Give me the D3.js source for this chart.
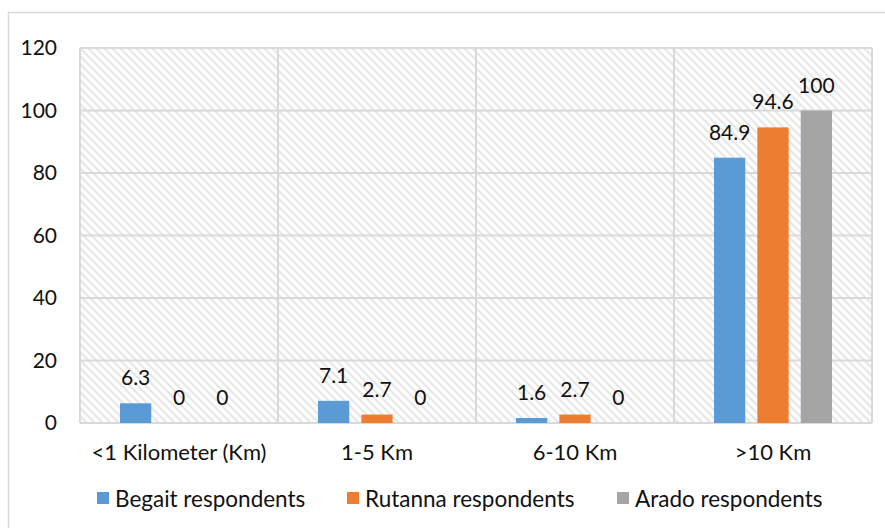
<!DOCTYPE html>
<html>
<head>
<meta charset="utf-8">
<script src="https://cdn.jsdelivr.net/npm/d3@7"></script>
<style>
  html, body { margin: 0; padding: 0; background: #fff; }
  svg { display: block; }
  text { font-family: "Lato", "Open Sans", sans-serif; fill: #111; }
</style>
</head>
<body>
<svg id="chart" width="885" height="528"></svg>
<script>
// Distance to source, share of respondents (%)
const categories = ["<1 Kilometer (Km)", "1-5 Km", "6-10 Km", ">10 Km"];
const seriesNames = ["Begait respondents", "Rutanna respondents", "Arado respondents"];
const begait  = [6.3, 7.1, 1.6, 84.9];
const rutanna = [0, 2.7, 2.7, 94.6];
const arado   = [0, 0, 0, 100];
const yTicks  = [0, 20, 40, 60, 80, 100, 120];
const colors  = ["#5b9bd5", "#ed7d31", "#a5a5a5"];

const seriesValues = [begait, rutanna, arado];

const svg = d3.select("#chart");
const plot = { left: 80, right: 872, top: 48, bottom: 423 };

// Outer frame
svg.append("rect")
  .attr("x", 8.5).attr("y", 12.5)
  .attr("width", 1000).attr("height", 1000)
  .attr("fill", "#fff").attr("stroke", "#d9d9d9").attr("stroke-width", 1.5);

// Diagonal hatch fill for the plot area
const defs = svg.append("defs");
const pat = defs.append("pattern")
  .attr("id", "hatch")
  .attr("patternUnits", "userSpaceOnUse")
  .attr("width", 8).attr("height", 8);
pat.append("rect").attr("width", 8).attr("height", 8).attr("fill", "#fff");
pat.append("path")
  .attr("d", "M-2,-2 L10,10 M-2,6 L2,10 M6,-2 L10,2")
  .attr("stroke", "#e6e6e6").attr("stroke-width", 2);

const x0 = d3.scaleBand()
  .domain(categories)
  .range([plot.left, plot.right])
  .paddingInner(0).paddingOuter(0);

const x1 = d3.scaleBand()
  .domain(seriesNames)
  .range([40, x0.bandwidth() - 40])
  .paddingInner(12 / 43).paddingOuter(0);

const y = d3.scaleLinear()
  .domain([0, 120])
  .range([plot.bottom, plot.top]);

svg.append("rect")
  .attr("x", plot.left).attr("y", plot.top)
  .attr("width", plot.right - plot.left).attr("height", plot.bottom - plot.top)
  .attr("fill", "url(#hatch)");

// Horizontal gridlines
svg.append("g")
  .selectAll("line")
  .data(yTicks)
  .join("line")
  .attr("x1", plot.left).attr("x2", plot.right)
  .attr("y1", d => y(d)).attr("y2", d => y(d))
  .attr("stroke", "#d9d9d9").attr("stroke-width", 2);

// Vertical category separators and plot edges
const bounds = categories.map(c => x0(c)).concat([plot.right]);
svg.append("g")
  .selectAll("line")
  .data(bounds)
  .join("line")
  .attr("x1", d => d).attr("x2", d => d)
  .attr("y1", plot.top).attr("y2", plot.bottom)
  .attr("stroke", "#d9d9d9").attr("stroke-width", 2);

// Y axis labels
const yAxis = d3.axisLeft(y).tickValues(yTicks).tickSize(0).tickPadding(0);
const yg = svg.append("g")
  .attr("transform", `translate(${plot.left - 23},0)`)
  .call(yAxis);
yg.select(".domain").remove();
yg.selectAll("text")
  .attr("font-size", 21)
  .attr("font-family", "Lato, sans-serif")
  .attr("fill", "#111");

// Bars
const groups = svg.append("g")
  .selectAll("g")
  .data(categories)
  .join("g")
  .attr("transform", c => `translate(${x0(c)},0)`);

groups.selectAll("rect")
  .data((c, i) => seriesNames.map((s, j) => ({ s, j, v: seriesValues[j][i] })))
  .join("rect")
  .attr("x", d => x1(d.s))
  .attr("width", x1.bandwidth())
  .attr("y", d => y(d.v))
  .attr("height", d => y(0) - y(d.v))
  .attr("fill", d => colors[d.j]);

// Value labels
groups.selectAll("text.val")
  .data((c, i) => seriesNames.map((s, j) => ({ s, j, v: seriesValues[j][i] })))
  .join("text")
  .attr("class", "val")
  .attr("x", d => x1(d.s) + x1.bandwidth() / 2)
  .attr("y", d => y(d.v) - 18)
  .attr("text-anchor", "middle")
  .attr("font-size", 21)
  .text(d => d.v);

// Category labels
const xAxis = d3.axisBottom(x0).tickSize(0).tickPadding(0);
const xg = svg.append("g")
  .attr("transform", `translate(0,${plot.bottom + 21.5})`)
  .call(xAxis);
xg.select(".domain").remove();
xg.selectAll("text")
  .attr("font-size", 22)
  .attr("font-family", "Lato, sans-serif")
  .attr("fill", "#111");

// Legend
const legendX = [97, 347, 617];
const legend = svg.append("g")
  .selectAll("g")
  .data(seriesNames)
  .join("g")
  .attr("transform", (d, i) => `translate(${legendX[i]},498)`);
legend.append("rect")
  .attr("x", 0).attr("y", -6)
  .attr("width", 12).attr("height", 12)
  .attr("fill", (d, i) => colors[i]);
legend.append("text")
  .attr("x", 18).attr("y", 0)
  .attr("dominant-baseline", "central")
  .attr("font-size", 22.5)
  .text(d => d);
</script>
</body>
</html>
